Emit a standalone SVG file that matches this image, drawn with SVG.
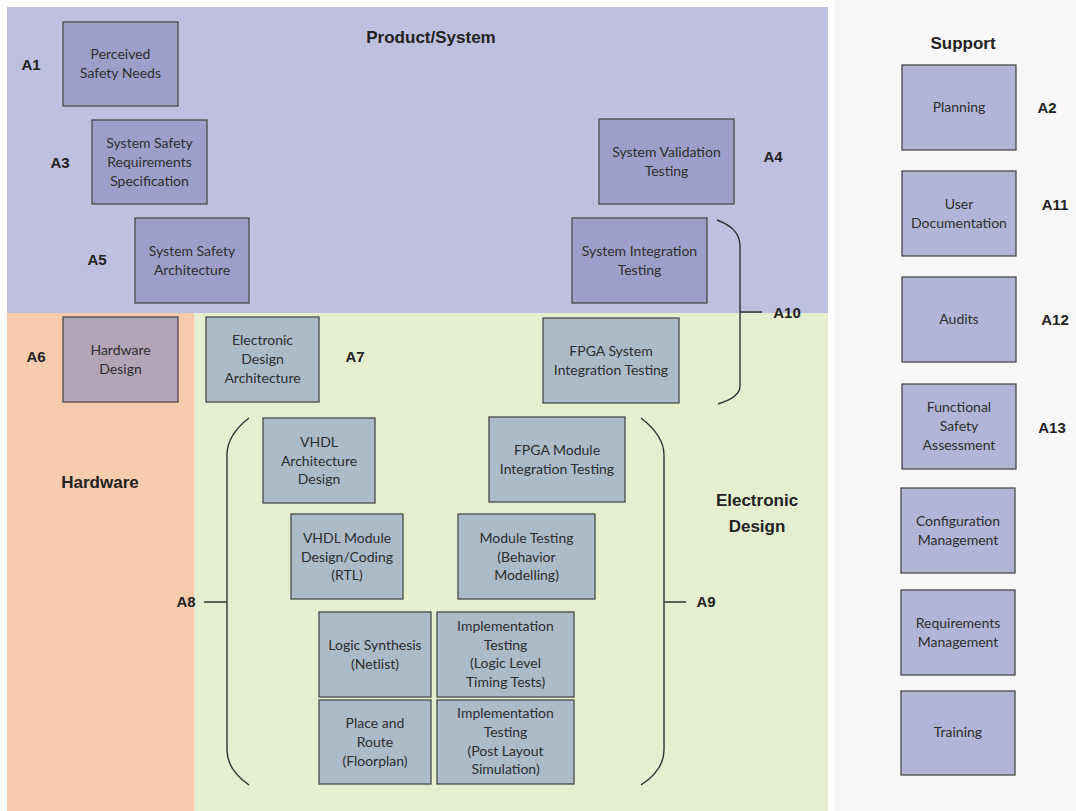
<svg xmlns="http://www.w3.org/2000/svg" width="1076" height="811" viewBox="0 0 1076 811">
<style>
.bx{stroke:#4a4a4a;stroke-width:1.3}
.ps{fill:#9e9fc9}
.sp{fill:#b2b5d7}
.hw{fill:#b2a6b6}
.ed{fill:#adbac7}
.t{font-family:Lato,"Liberation Sans",sans-serif;font-size:14px;fill:#2e2e2e;text-anchor:middle}
.lb{font-family:"Liberation Sans",Arial,sans-serif;font-size:15px;font-weight:bold;fill:#222;text-anchor:middle}
.ti{font-family:"Liberation Sans",Arial,sans-serif;font-size:17px;font-weight:bold;fill:#222;text-anchor:middle}
.br{fill:none;stroke:#333;stroke-width:1.4}
</style>
<rect x="0" y="0" width="1076" height="811" fill="#ffffff"/>
<g id="regions">
<rect x="834" y="0" width="242" height="811" fill="#f8f8f8"/>
<rect x="7" y="7" width="821" height="306" fill="#bfbfe0"/>
<rect x="7" y="313" width="187" height="498" fill="#f7ccae"/>
<rect x="194" y="313" width="634" height="498" fill="#e5efcf"/>
<text class="ti" x="431" y="43">Product/System</text>
<text class="ti" x="963" y="49">Support</text>
<text class="ti" x="100" y="488">Hardware</text>
<text class="ti" x="757" y="506">Electronic</text>
<text class="ti" x="757" y="532">Design</text>
</g>
<g id="connectors">
<path class="br" d="M249,418 C236,428 227,440 227,455 L227,750 C227,765 236,776 249,785 M227,602 L204,602"/>
<path class="br" d="M641,418 C654,428 664,440 664,455 L664,750 C664,765 655,776 641,785 M664,602 L686,602"/>
<path class="br" d="M717,220 C730,225 740,232 740,246 L740,386 C740,395 731,400 718,404 M740,312 L762,312"/>
</g>
<g id="A1"><rect class="bx ps" x="63" y="22" width="115" height="84"/><text class="t" x="120.5" y="59">Perceived</text><text class="t" x="120.5" y="78">Safety Needs</text><text class="lb" x="31" y="70">A1</text></g>
<g id="A3"><rect class="bx ps" x="92" y="120" width="115" height="84"/><text class="t" x="149.5" y="148">System Safety</text><text class="t" x="149.5" y="167">Requirements</text><text class="t" x="149.5" y="186">Specification</text><text class="lb" x="60" y="168">A3</text></g>
<g id="A5"><rect class="bx ps" x="135" y="218" width="114" height="85"/><text class="t" x="192" y="256">System Safety</text><text class="t" x="192" y="275">Architecture</text><text class="lb" x="97" y="265">A5</text></g>
<g id="A4"><rect class="bx ps" x="599" y="119" width="135" height="85"/><text class="t" x="666.5" y="157">System Validation</text><text class="t" x="666.5" y="176">Testing</text><text class="lb" x="773" y="162">A4</text></g>
<g id="SIT"><rect class="bx ps" x="572" y="218" width="135" height="85"/><text class="t" x="639.5" y="256">System Integration</text><text class="t" x="639.5" y="275">Testing</text></g>
<g id="A10"><text class="lb" x="787" y="318">A10</text></g>
<g id="A6"><rect class="bx hw" x="63" y="317" width="115" height="85"/><text class="t" x="120.5" y="355">Hardware</text><text class="t" x="120.5" y="374">Design</text><text class="lb" x="36" y="362">A6</text></g>
<g id="A7"><rect class="bx ed" x="206" y="317" width="113" height="85"/><text class="t" x="262.5" y="345">Electronic</text><text class="t" x="262.5" y="364">Design</text><text class="t" x="262.5" y="383">Architecture</text><text class="lb" x="355" y="362">A7</text></g>
<g id="FSIT"><rect class="bx ed" x="543" y="318" width="136" height="85"/><text class="t" x="611" y="356">FPGA System</text><text class="t" x="611" y="375">Integration Testing</text></g>
<g id="VAD"><rect class="bx ed" x="263" y="418" width="112" height="85"/><text class="t" x="319" y="447">VHDL</text><text class="t" x="319" y="465.5">Architecture</text><text class="t" x="319" y="484">Design</text></g>
<g id="FMIT"><rect class="bx ed" x="489" y="417" width="136" height="85"/><text class="t" x="557" y="455">FPGA Module</text><text class="t" x="557" y="474">Integration Testing</text></g>
<g id="VMD"><rect class="bx ed" x="291" y="514" width="112" height="85"/><text class="t" x="347" y="543">VHDL Module</text><text class="t" x="347" y="561.5">Design/Coding</text><text class="t" x="347" y="580">(RTL)</text></g>
<g id="MT"><rect class="bx ed" x="458" y="514" width="137" height="85"/><text class="t" x="526.5" y="543">Module Testing</text><text class="t" x="526.5" y="561.5">(Behavior</text><text class="t" x="526.5" y="580">Modelling)</text></g>
<g id="LS"><rect class="bx ed" x="319" y="612" width="112" height="85"/><text class="t" x="375" y="650">Logic Synthesis</text><text class="t" x="375" y="669">(Netlist)</text></g>
<g id="IT1"><rect class="bx ed" x="437" y="612" width="137" height="85"/><text class="t" x="505.5" y="631">Implementation</text><text class="t" x="505.5" y="649.5">Testing</text><text class="t" x="505.5" y="668">(Logic Level</text><text class="t" x="505.5" y="687">Timing Tests)</text></g>
<g id="PR"><rect class="bx ed" x="319" y="700" width="112" height="84"/><text class="t" x="375" y="728">Place and</text><text class="t" x="375" y="747">Route</text><text class="t" x="375" y="766">(Floorplan)</text></g>
<g id="IT2"><rect class="bx ed" x="437" y="700" width="137" height="84"/><text class="t" x="505.5" y="718">Implementation</text><text class="t" x="505.5" y="737">Testing</text><text class="t" x="505.5" y="755.5">(Post Layout</text><text class="t" x="505.5" y="774">Simulation)</text></g>
<g id="A8"><text class="lb" x="186" y="607">A8</text></g>
<g id="A9"><text class="lb" x="706" y="607">A9</text></g>
<g id="A2"><rect class="bx sp" x="902" y="65" width="114" height="85"/><text class="t" x="959" y="112">Planning</text><text class="lb" x="1047" y="113">A2</text></g>
<g id="A11"><rect class="bx sp" x="902" y="171" width="114" height="85"/><text class="t" x="959" y="209">User</text><text class="t" x="959" y="228">Documentation</text><text class="lb" x="1055" y="210">A11</text></g>
<g id="A12"><rect class="bx sp" x="902" y="277" width="114" height="85"/><text class="t" x="959" y="324">Audits</text><text class="lb" x="1055" y="325">A12</text></g>
<g id="A13"><rect class="bx sp" x="902" y="384" width="114" height="85"/><text class="t" x="959" y="412">Functional</text><text class="t" x="959" y="431">Safety</text><text class="t" x="959" y="450">Assessment</text><text class="lb" x="1052" y="433">A13</text></g>
<g id="CM"><rect class="bx sp" x="901" y="488" width="114" height="85"/><text class="t" x="958" y="526">Configuration</text><text class="t" x="958" y="545">Management</text></g>
<g id="RM"><rect class="bx sp" x="901" y="590" width="114" height="85"/><text class="t" x="958" y="628">Requirements</text><text class="t" x="958" y="647">Management</text></g>
<g id="TR"><rect class="bx sp" x="901" y="691" width="114" height="84"/><text class="t" x="958" y="737">Training</text></g>
</svg>
